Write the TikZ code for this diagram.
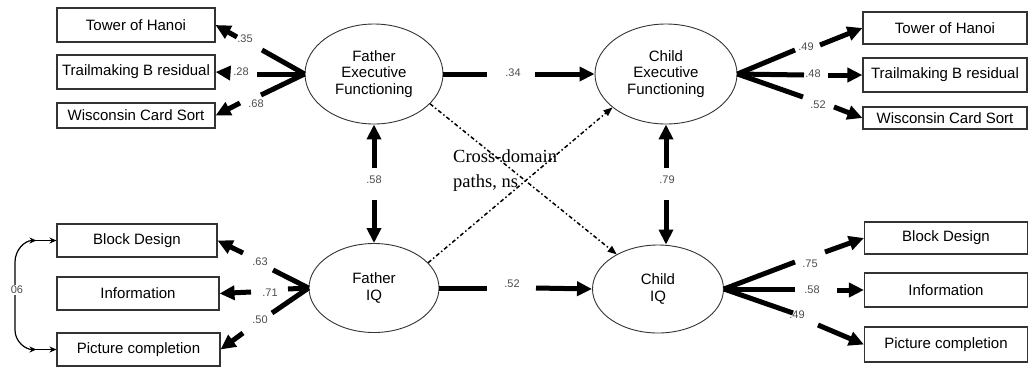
\documentclass[tikz,border=0pt]{standalone}
\usepackage{fontspec}
\setmainfont{Liberation Sans}
\newfontfamily\serifface{Liberation Serif}
\usetikzlibrary{arrows.meta,shapes.geometric}

\begin{document}
\begin{tikzpicture}[x=1pt,y=-1pt,
  box/.style={draw=black!80, line width=1.1pt, rectangle, inner sep=0pt,
    font=\fontsize{15}{17}\selectfont},
  latent/.style={draw=black!80, line width=0.9pt, ellipse, inner sep=0pt,
    align=center, font=\fontsize{15}{16.7}\selectfont},
  leg/.style={line width=5pt},
  legarrow/.style={line width=5pt, -{Triangle[length=15pt,width=14pt]}},
  coef/.style={font=\fontsize{11}{13}\selectfont, text=black!70, inner sep=1pt},
  crosspath/.style={line width=1.5pt, dash pattern=on 4pt off 2.5pt on 1.5pt off 2.5pt,
    -{Triangle[length=9pt,width=7pt]}},
  corr/.style={line width=1.2pt, {Stealth[length=7pt,width=6pt]}-{Stealth[length=7pt,width=6pt]}},
  corrtip/.style={line width=1.2pt, -{Stealth[length=7pt,width=6pt]}},
]
\useasboundingbox (0,0) rectangle (1029,368);

% ---- latent variables
\node[latent, minimum width=138pt, minimum height=100pt] (fef) at (374,74) {Father\\Executive\\Functioning};
\node[latent, minimum width=142pt, minimum height=100pt] (cef) at (666,74) {Child\\Executive\\Functioning};
\node[latent, minimum width=130pt, minimum height=89pt] (fiq) at (374,288) {Father\\IQ};
\node[latent, minimum width=131pt, minimum height=88pt] (ciq) at (658,289) {Child\\IQ};

% ---- father indicators
\node[box, minimum width=158pt, minimum height=34pt] (lTH) at (136,25) {Tower of Hanoi};
\node[box, minimum width=158pt, minimum height=34pt] (lTB) at (136,72) {Trailmaking B residual};
\node[box, minimum width=158pt, minimum height=25pt] (lWC) at (136,115.5) {Wisconsin Card Sort};
\node[box, minimum width=160pt, minimum height=33pt] (lBD) at (137,240.5) {Block Design};
\node[box, minimum width=162pt, minimum height=33pt] (lIN) at (138,293.5) {Information};
\node[box, minimum width=163pt, minimum height=33pt] (lPC) at (138.5,349.5) {Picture completion};

% ---- child indicators
\node[box, minimum width=164pt, minimum height=32pt] (rTH) at (945,28) {Tower of Hanoi};
\node[box, minimum width=164pt, minimum height=34pt] (rTB) at (945,75) {Trailmaking B residual};
\node[box, minimum width=164pt, minimum height=22pt] (rWC) at (945,118) {Wisconsin Card Sort};
\node[box, minimum width=163pt, minimum height=32pt] (rBD) at (946,238) {Block Design};
\node[box, minimum width=163pt, minimum height=34pt] (rIN) at (946,290) {Information};
\node[box, minimum width=163pt, minimum height=35pt] (rPC) at (946,344.5) {Picture completion};

% ---- father executive functioning loadings
\draw[leg] (fef.west) -- (262,50);
\draw[legarrow] (237,37) -- (lTH.east);
\node[coef] (c35) at (245,39) {.35};
\draw[leg] (fef.west) -- (257,74);
\draw[legarrow] (230,73) -- (lTB.east);
\node[coef] (c28) at (241,72) {.28};
\draw[leg] (fef.west) -- (261,95);
\draw[legarrow] (240,103) -- (lWC.east);
\node[coef] (c68) at (256,104) {.68};

% ---- father IQ loadings
\draw[leg] (fiq.west) -- (273,270);
\draw[legarrow] (243,253) -- (lBD.east);
\node[coef] (c63) at (260,262) {.63};
\draw[leg] (fiq.west) -- (288,289);
\draw[legarrow] (251,292) -- (lIN.east);
\node[coef] (c71) at (270,293) {.71};
\draw[leg] (fiq.west) -- (272,313);
\draw[legarrow] (243,333) -- (lPC.east);
\node[coef] (c50) at (260,320) {.50};

% ---- child executive functioning loadings
\draw[leg] (cef.east) -- (795,50);
\draw[legarrow] (820,45) -- (rTH.west);
\node[coef] (c49a) at (806,47) {.49};
\draw[leg] (cef.east) -- (804,75);
\draw[legarrow] (828,75) -- (rTB.west);
\node[coef] (c48) at (813,74) {.48};
\draw[leg] (cef.east) -- (803,97);
\draw[legarrow] (834,107) -- (rWC.west);
\node[coef] (c52a) at (818,105) {.52};

% ---- child IQ loadings
\draw[leg] (ciq.east) -- (795,262);
\draw[legarrow] (825,252) -- (rBD.west);
\node[coef] (c75) at (810,264) {.75};
\draw[leg] (ciq.east) -- (795,289);
\draw[legarrow] (837,290) -- (rIN.west);
\node[coef] (c58b) at (812,290) {.58};
\draw[leg] (ciq.east) -- (793,313);
\draw[legarrow] (818,325) -- (rPC.west);
\node[coef] (c49b) at (797,315) {.49};

% ---- cross-generation stability paths
\draw[leg] (fef.east) -- (487,74);
\draw[legarrow] (535,74) -- (cef.west);
\node[coef] (c34) at (513,73) {.34};
\draw[leg] (fiq.east) -- (487,288);
\draw[legarrow] (536,288) -- (ciq.west);
\node[coef] (c52b) at (512,284) {.52};

% ---- within-generation correlations
\coordinate (fv1) at (374,168);
\coordinate (fv2) at (374,200);
\draw[legarrow] (fv1) -- (fef.south);
\draw[legarrow] (fv2) -- (fiq.north);
\node[coef] (c58a) at (374,180) {.58};
\coordinate (cv1) at (666,168);
\coordinate (cv2) at (666,200);
\draw[legarrow] (cv1) -- (cef.south);
\draw[legarrow] (cv2) -- (cv2 |- ciq.north);
\node[coef] (c79) at (667,180) {.79};

% ---- cross-domain paths
\draw[crosspath] (fef.-28) -- (ciq.140);
\draw[crosspath] (fiq.25) -- (cef.-148);
\node[font=\serifface\fontsize{18.5}{25}\selectfont, align=left, anchor=north west, inner sep=0pt]
  (xnote) at (453,149.5) {Cross-domain\\paths, ns};

% ---- residual correlation between Block Design and Picture completion
\coordinate (k1) at ([xshift=-20pt]lBD.west);
\coordinate (k2) at ([xshift=-20pt]lPC.west);
\draw[corr] (k1) to[out=180,in=90] (15,262) -- (15,330) to[out=-90,in=180] (k2);
\draw[corrtip] (k1) -- (lBD.west);
\draw[corrtip] (k2) -- (lPC.west);
\node[coef, fill=white, inner sep=1.5pt] (c06) at (17,290) {06};
\end{tikzpicture}
\end{document}
